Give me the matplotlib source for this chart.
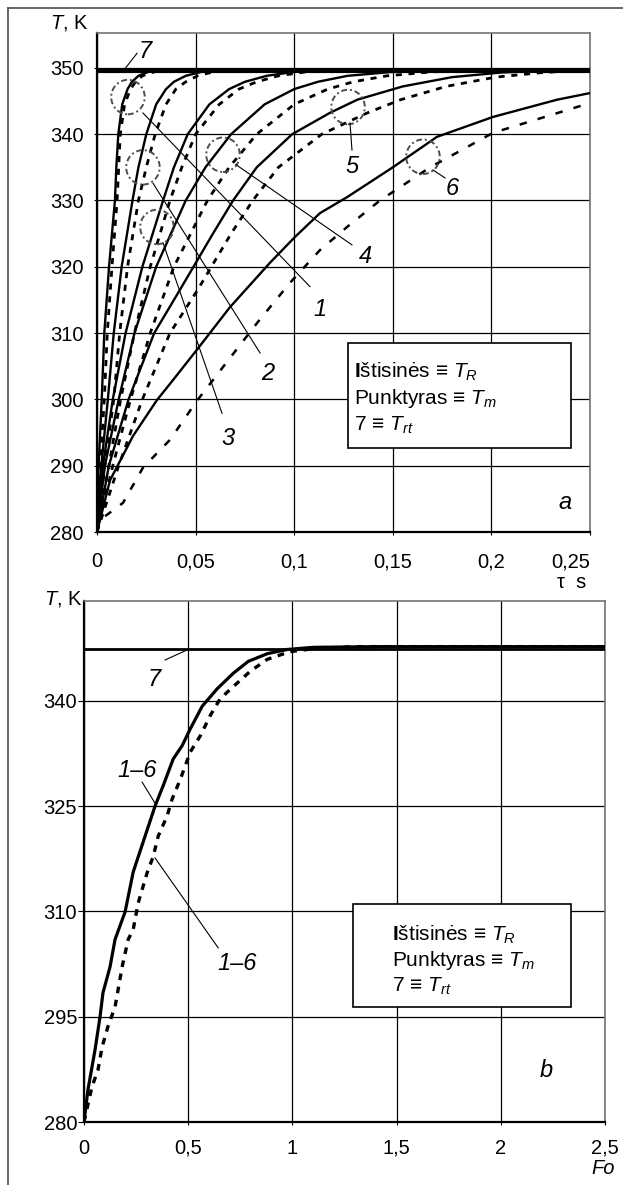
import matplotlib

matplotlib.use("Agg")
import matplotlib.pyplot as plt
from matplotlib.lines import Line2D
from matplotlib.patches import Ellipse, Rectangle

plt.rcParams["font.family"] = ["Liberation Sans", "DejaVu Sans"]
plt.rcParams["mathtext.fontset"] = "custom"
plt.rcParams["mathtext.rm"] = "Liberation Sans"
plt.rcParams["mathtext.it"] = "Liberation Sans:italic"
plt.rcParams["mathtext.bf"] = "Liberation Sans:bold"

W, H = 623, 1185

# ---------------- data: panel a (time, s) ----------------
T_LEVELS = [280, 290, 300, 310, 320, 330, 335, 340, 344.5, 346.8, 347.9, 348.8, 349.4, 349.7]

c1_s_t = [0, 0.0008, 0.0024, 0.0037, 0.0061, 0.0091, 0.0098, 0.0108, 0.0128, 0.0155, 0.0177, 0.021, 0.026, 0.034]
c1_d_t = [0, 0.0016, 0.0037, 0.0052, 0.0076, 0.0102, 0.0110, 0.0118, 0.014, 0.017, 0.0195, 0.023, 0.029, 0.038]
c2_s_t = [0, 0.0022, 0.0055, 0.0085, 0.0125, 0.0180, 0.021, 0.0250, 0.030, 0.035, 0.039, 0.045, 0.053, 0.065]
c2_d_t = [0, 0.004, 0.0085, 0.0115, 0.0155, 0.0210, 0.025, 0.0295, 0.035, 0.040, 0.045, 0.051, 0.059, 0.072]
c3_s_t = [0, 0.003, 0.008, 0.0145, 0.023, 0.0335, 0.039, 0.046, 0.057, 0.067, 0.075, 0.086, 0.100, 0.115]
c3_d_t = [0, 0.006, 0.012, 0.019, 0.027, 0.037, 0.043, 0.050, 0.062, 0.072, 0.081, 0.092, 0.106, 0.122]
c4_s_t = [0, 0.004, 0.011, 0.019, 0.030, 0.045, 0.055, 0.068, 0.085, 0.100, 0.112, 0.127, 0.150, 0.180]
c4_d_t = [0, 0.008, 0.017, 0.027, 0.039, 0.056, 0.067, 0.081, 0.100, 0.117, 0.130, 0.147, 0.170, 0.200]

c5_T = [280, 290, 300, 310, 316.5, 325, 330, 335, 340, 343.2, 345.2, 347.2, 348.6, 349.3, 349.7]
c5_s_t = [0, 0.006, 0.016, 0.029, 0.042, 0.0588, 0.069, 0.081, 0.099, 0.118, 0.132, 0.155, 0.180, 0.205, 0.240]
c5_d_t = [0, 0.011, 0.023, 0.037, 0.051, 0.068, 0.079, 0.092, 0.114, 0.137, 0.154, 0.177, 0.202, 0.226, 0.250]

c6_s_t = [0, 0.0066, 0.0183, 0.0304, 0.0385, 0.0507, 0.0674, 0.0877, 0.1004, 0.1131, 0.1268, 0.150, 0.1724, 0.2008, 0.2333, 0.25]
c6_s_T = [280, 287.8, 294.5, 299.9, 302.9, 307.5, 313.9, 320.6, 324.5, 328.1, 330.5, 335, 339.6, 342.6, 345.2, 346.2]
c6_d_t = [0, 0.0015, 0.0132, 0.0233, 0.037, 0.0507, 0.0811, 0.0979, 0.113, 0.1268, 0.1435, 0.1689, 0.2008, 0.25]
c6_d_T = [280, 281.8, 284.4, 289.7, 293.9, 299.8, 311.5, 317.6, 322.5, 326, 330, 335, 340.2, 344.7]

T_RT_A = 349.6  # curve 7

# circles marking curves 1..6 (t, T)
circle_t = [0.0157, 0.0233, 0.0304, 0.0639, 0.1273, 0.1653]
circle_T = [345.6, 335.0, 326.0, 336.9, 344.1, 336.6]

# curve labels: text position and leader (from -> to)
lab_a = ["1", "2", "3", "4", "5", "6", "7"]
lab_a_xy = [(0.1131, 313.6), (0.0867, 303.9), (0.0664, 294.1), (0.1359, 321.6),
            (0.1293, 335.2), (0.180, 331.8), (0.0245, 352.4)]
lead_a = [((0.0233, 343.2), (0.108, 317.0)),
          ((0.0284, 332.6), (0.0827, 307.0)),
          ((0.0335, 323.6), (0.0634, 297.9)),
          ((0.0705, 335.4), (0.1293, 323.3)),
          ((0.1283, 341.7), (0.1293, 337.6)),
          ((0.1704, 334.6), (0.1765, 333.4)),
          ((0.0132, 349.5), (0.0203, 352.2))]

xt_a = [0, 0.05, 0.1, 0.15, 0.2, 0.25]
xt_a_lab = ["0", "0,05", "0,1", "0,15", "0,2", "0,25"]
yt_a = [280, 290, 300, 310, 320, 330, 340, 350]

# ---------------- data: panel b (Fo) ----------------
b_s_fo = [0, 0.019, 0.053, 0.077, 0.091, 0.125, 0.149, 0.197, 0.236, 0.293, 0.341, 0.380, 0.428,
          0.471, 0.510, 0.567, 0.639, 0.716, 0.788, 0.880, 0.976, 1.10, 1.40, 2.50]
b_s_T = [280, 284.6, 290.3, 295, 298.4, 302.1, 306, 309.9, 315.6, 320.7, 325, 327.9, 331.7,
         333.6, 336, 339.2, 341.7, 343.9, 345.6, 346.7, 347.3, 347.6, 347.7, 347.7]
b_d_fo = [0, 0.038, 0.067, 0.087, 0.115, 0.149, 0.183, 0.212, 0.236, 0.260, 0.303, 0.332, 0.356,
          0.399, 0.423, 0.462, 0.510, 0.558, 0.606, 0.654, 0.716, 0.798, 0.880, 0.990, 1.10, 1.30, 2.50]
b_d_T = [280, 285, 287.4, 290.7, 293.6, 296.4, 302.1, 306, 307.4, 311.2, 315.5, 317.8, 320.7,
         323.6, 326, 328.8, 332.7, 335, 337.9, 340.3, 342, 344.2, 345.9, 347.0, 347.4, 347.7, 347.7]
T_RT_B = 347.4

lab_b = ["7", "1–6", "1–6"]
lab_b_xy = [(0.335, 343.0), (0.255, 330.0), (0.736, 302.6)]
lead_b = [((0.389, 345.8), (0.50, 347.3)),
          ((0.279, 328.4), (0.341, 325.4)),
          ((0.341, 317.6), (0.644, 304.8))]

xt_b = [0, 0.5, 1, 1.5, 2, 2.5]
xt_b_lab = ["0", "0,5", "1", "1,5", "2", "2,5"]
yt_b = [280, 295, 310, 325, 340]

LEGEND_LINES = [r"$\mathbf{I}$štisinės ≡ $T_R$", r"Punktyras ≡ $T_m$", r"7 ≡ $T_{rt}$"]

SOLID = dict(color="black", lw=1.7, solid_capstyle="butt")
DASH = dict(color="black", lw=2.0, ls=(0, (2.2, 2.4)))
DASH_LONG = dict(color="black", lw=1.8, ls=(0, (3.0, 4.5)))


def px_axes(fig, left, top, right, bottom):
    return fig.add_axes([left / W, 1 - bottom / H, (right - left) / W, (bottom - top) / H])


def style_axes(ax):
    for side in ("left", "bottom"):
        ax.spines[side].set_color("black")
        ax.spines[side].set_linewidth(1.6)
    for side in ("top", "right"):
        ax.spines[side].set_color("0.45")
        ax.spines[side].set_linewidth(1.2)
    ax.grid(True, color="black", lw=0.9)
    ax.set_axisbelow(True)


fig = plt.figure(figsize=(W / 100, H / 100), dpi=100)

# outer frame (left and top only)
fig.add_artist(Line2D([8 / W, 8 / W], [0, 1 - 8 / H], color="0.3", lw=1.2))
fig.add_artist(Line2D([8 / W, 1], [1 - 8 / H, 1 - 8 / H], color="0.3", lw=1.2))

# ---------------- panel a ----------------
ax = px_axes(fig, 97, 33, 590, 532)
style_axes(ax)
ax.set_xlim(0, 0.25)
ax.set_ylim(280, 355.26)

ax.plot([0, 0.25], [T_RT_A, T_RT_A], color="black", lw=3.0, zorder=3)
pairs = [(c1_s_t, c1_d_t, T_LEVELS), (c2_s_t, c2_d_t, T_LEVELS), (c3_s_t, c3_d_t, T_LEVELS),
         (c4_s_t, c4_d_t, T_LEVELS), (c5_s_t, c5_d_t, c5_T)]
for ts, td, lv in pairs:
    ax.plot(ts + [0.25], lv + [lv[-1]], zorder=4, **SOLID)
    ax.plot(td + [0.25], lv + [lv[-1]], zorder=4, **DASH)
ax.plot(c6_s_t, c6_s_T, zorder=4, **SOLID)
ax.plot(c6_d_t, c6_d_T, zorder=4, **DASH_LONG)

for t, T in zip(circle_t, circle_T):
    ax.add_patch(Ellipse((t, T), 0.017, 5.2, fill=False, ec="0.3", lw=1.4,
                         ls=(0, (3, 1.5, 1, 1.5)), zorder=5))
for (x0, y0), (x1, y1) in lead_a:
    ax.plot([x0, x1], [y0, y1], color="black", lw=0.8, zorder=5)
for txt, (x, y) in zip(lab_a, lab_a_xy):
    ax.text(x, y, txt, fontsize=17, style="italic", ha="center", va="center", zorder=6)

ax.add_patch(Rectangle((0.509, 0.168), 0.4525, 0.211, transform=ax.transAxes,
                       fc="white", ec="black", lw=1.2, zorder=7))
for i, line in enumerate(LEGEND_LINES):
    ax.text(0.522, 0.321 - i * 0.054, line, transform=ax.transAxes, fontsize=15,
            ha="left", va="center", zorder=8)
ax.text(0.2373, 284.4, "a", fontsize=17, style="italic", ha="center", va="center")

ax.set_xticks(xt_a)
ax.set_xticklabels(xt_a_lab)
ax.set_yticks(yt_a)
ax.tick_params(axis="x", length=2, pad=12.5, labelsize=14.5)
ax.tick_params(axis="y", length=2, pad=7.5, labelsize=14.5)
ax.get_xticklabels()[-1].set_horizontalalignment("right")
fig.text(50 / W, 1 - 23 / H, "$T$, K", fontsize=14.5, ha="left", va="center")
fig.text(572 / W, 1 - 583 / H, "τ  s", fontsize=14.5, ha="center", va="center")

# ---------------- panel b ----------------
bx = px_axes(fig, 84, 601, 605, 1122)
style_axes(bx)
bx.set_xlim(0, 2.5)
bx.set_ylim(280, 354.2)

bx.plot([0, 2.5], [T_RT_B, T_RT_B], color="black", lw=2.0, zorder=3)
bx.plot(b_s_fo, b_s_T, zorder=4, color="black", lw=2.3)
bx.plot(b_d_fo, b_d_T, zorder=4, color="black", lw=2.4, ls=(0, (2.0, 2.0)))
for (x0, y0), (x1, y1) in lead_b:
    bx.plot([x0, x1], [y0, y1], color="black", lw=0.8, zorder=5)
for txt, (x, y) in zip(lab_b, lab_b_xy):
    bx.text(x, y, txt, fontsize=17, style="italic", ha="center", va="center", zorder=6)

bx.add_patch(Rectangle((0.516, 0.2207), 0.419, 0.1977, transform=bx.transAxes,
                       fc="white", ec="black", lw=1.2, zorder=7))
for i, line in enumerate(LEGEND_LINES):
    bx.text(0.591, 0.359 - i * 0.049, line, transform=bx.transAxes, fontsize=15,
            ha="left", va="center", zorder=8)
bx.text(2.216, 287.4, "b", fontsize=17, style="italic", ha="center", va="center")

bx.set_xticks(xt_b)
bx.set_xticklabels(xt_b_lab)
bx.set_yticks(yt_b)
bx.tick_params(axis="x", length=2, pad=10, labelsize=14.5)
bx.tick_params(axis="y", length=4, pad=1, labelsize=14.5)
fig.text(44 / W, 1 - 599 / H, "$T$, K", fontsize=14.5, ha="left", va="center")
fig.text(603 / W, 1 - 1168 / H, "Fo", fontsize=14.5, style="italic", ha="center", va="center")

fig.savefig("out.png", dpi=100)
